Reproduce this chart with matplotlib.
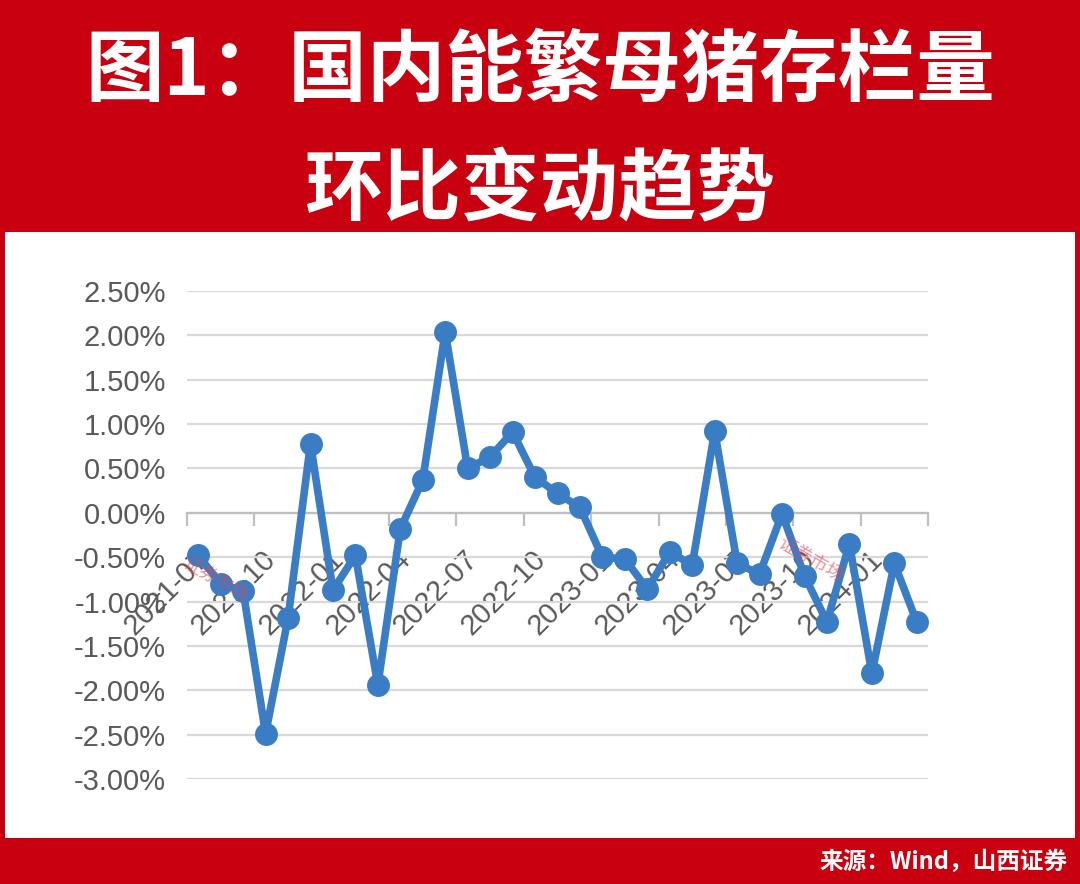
import matplotlib
matplotlib.use("Agg")
import matplotlib.pyplot as plt
from matplotlib.patches import Rectangle
from matplotlib.ticker import FixedLocator, FuncFormatter
from matplotlib.transforms import ScaledTranslation

# 月份与能繁母猪存栏环比 (%)
months = ["2021-07", "2021-08", "2021-09", "2021-10", "2021-11", "2021-12",
          "2022-01", "2022-02", "2022-03", "2022-04", "2022-05", "2022-06",
          "2022-07", "2022-08", "2022-09", "2022-10", "2022-11", "2022-12",
          "2023-01", "2023-02", "2023-03", "2023-04", "2023-05", "2023-06",
          "2023-07", "2023-08", "2023-09", "2023-10", "2023-11", "2023-12",
          "2024-01", "2024-02", "2024-03"]
mom = [-0.48, -0.80, -0.88, -2.49, -1.19, 0.78,
       -0.87, -0.48, -1.94, -0.18, 0.37, 2.04,
       0.50, 0.63, 0.91, 0.40, 0.22, 0.06,
       -0.50, -0.52, -0.86, -0.44, -0.59, 0.92,
       -0.57, -0.69, -0.01, -0.71, -1.23, -0.35,
       -1.81, -0.57, -1.23]
title1 = "图1：国内能繁母猪存栏量"
title2 = "环比变动趋势"
source = "来源：Wind，山西证券"

RED = "#C8000F"
BLUE = "#3A7DC4"
GRAY = "#595959"
CJK = ['Noto Sans CJK SC', 'DejaVu Sans']

plt.rcParams['font.family'] = ['Liberation Sans', 'DejaVu Sans']

fig = plt.figure(figsize=(10.8, 8.84), dpi=100)
fig.patch.set_facecolor(RED)
fig.add_artist(Rectangle((5/1080, 1-838/884), 1070/1080, (838-232)/884,
                         transform=fig.transFigure, facecolor="white",
                         edgecolor="none", zorder=0))

fig.text(0.5, 1-72/884, title1, color="white", fontsize=56.5, fontweight="heavy",
         ha="center", va="center", family=CJK)
fig.text(0.5, 1-192/884, title2, color="white", fontsize=56.5, fontweight="heavy",
         ha="center", va="center", family=CJK)
fig.text(1068/1080, 1-862/884, source, color="white", fontsize=17, fontweight="bold",
         ha="right", va="center", family=CJK)

ax = fig.add_axes([187/1080, 1-779/884, (928-187)/1080, (779-291)/884])
ax.set_facecolor("none")

x = list(range(len(months)))
ax.plot(x, mom, color=BLUE, linewidth=5.5, marker="o", markersize=15.5,
        markerfacecolor=BLUE, markeredgecolor=BLUE, zorder=3, clip_on=False)

ax.set_xlim(-0.5, len(months) - 0.5)
ax.set_ylim(-3.0, 2.5)
ax.set_yticks([-3.0 + 0.5*i for i in range(12)])
ax.yaxis.set_major_formatter(FuncFormatter(lambda v, p: f"{v:.2f}%"))
ax.grid(axis="y", color="#D9D9D9", linewidth=1.6, zorder=1)
ax.tick_params(axis="y", length=0, pad=15, labelsize=21, labelcolor=GRAY)

for s in ["top", "right", "left"]:
    ax.spines[s].set_visible(False)
ax.spines["bottom"].set_position(("data", 0))
ax.spines["bottom"].set_color("#BFBFBF")
ax.spines["bottom"].set_linewidth(1.6)
ax.spines["bottom"].set_zorder(2)

label_pos = x[::3]
ax.xaxis.set_major_locator(FixedLocator(label_pos))
ax.set_xticklabels(months[::3])
ax.xaxis.set_minor_locator(FixedLocator([i - 0.5 for i in range(0, len(months) + 1, 3)]))
ax.tick_params(axis="x", which="major", length=0, pad=23, labelsize=21, labelcolor=GRAY)
ax.tick_params(axis="x", which="minor", length=9, width=1.6, color="#BFBFBF", direction="out")
shift = ScaledTranslation(-0.04, 0, fig.dpi_scale_trans)
for lab in ax.get_xticklabels():
    lab.set_rotation(45)
    lab.set_ha("right")
    lab.set_va("top")
    lab.set_rotation_mode("anchor")
    lab.set_transform(lab.get_transform() + shift)

# 水印
for (wx, wy) in [(215, 580), (810, 560)]:
    fig.text(wx/1080, 1-wy/884, "证券市场", color="#E8424F", alpha=0.6, fontsize=13,
             rotation=-30, ha="center", va="center", family=CJK, zorder=5)

fig.savefig("out.png", dpi=100, facecolor=fig.get_facecolor())
